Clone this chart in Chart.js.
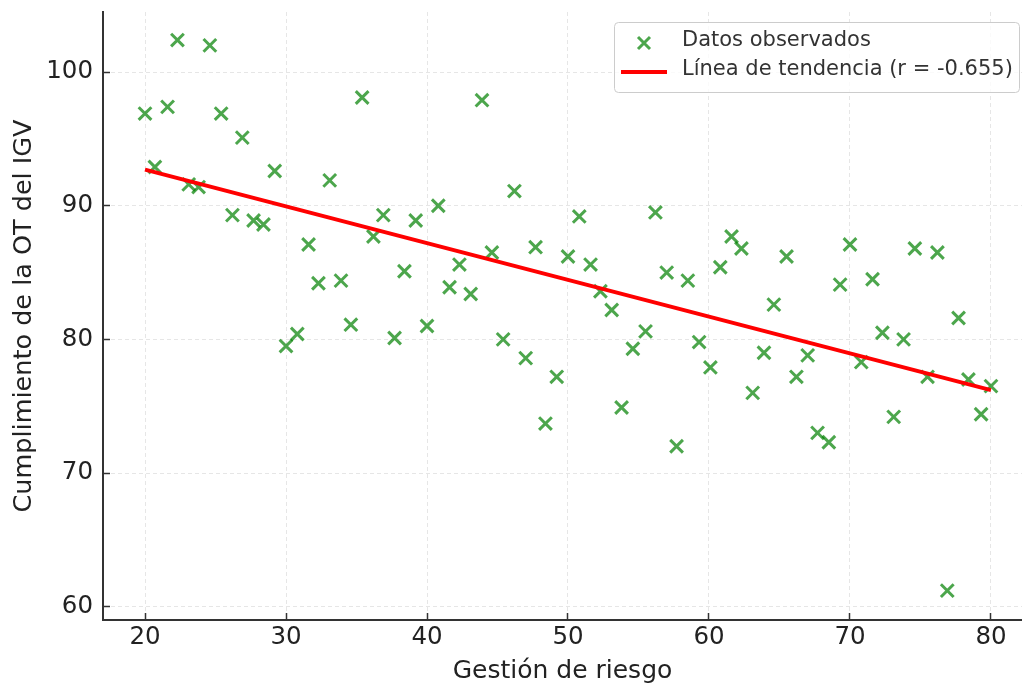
<!DOCTYPE html>
<html>
<head>
<meta charset="utf-8">
<title>Gestión de riesgo vs Cumplimiento</title>
<script src="https://cdn.jsdelivr.net/npm/chart.js@4.4.0/dist/chart.umd.min.js"></script>
<style>
    body{ margin:0; background:#ffffff; }
    canvas{ display:block; }
</style>
</head>
<body>

<canvas id="scatterChart" width="1022" height="684"></canvas>

<script>

// DATA

const gestionRiesgo = [
    20.0, 20.7, 21.6, 22.3, 23.1, 23.8, 24.6, 25.4, 26.2, 26.9,
    27.7, 28.4, 29.2, 30.0, 30.8, 31.6, 32.3, 33.1, 33.9, 34.6,
    35.4, 36.2, 36.9, 37.7, 38.4, 39.2, 40.0, 40.8, 41.6, 42.3,
    43.1, 43.9, 44.6, 45.4, 46.2, 47.0, 47.7, 48.4, 49.2, 50.0,
    50.8, 51.6, 52.3, 53.1, 53.8, 54.6, 55.5, 56.2, 57.0, 57.7,
    58.5, 59.3, 60.1, 60.8, 61.6, 62.3, 63.1, 63.9, 64.6, 65.5,
    66.2, 67.0, 67.7, 68.5, 69.3, 70.0, 70.8, 71.6, 72.3, 73.1,
    73.8, 74.6, 75.5, 76.2, 76.9, 77.7, 78.4, 79.3, 80.0
];

const cumplimiento = [
    96.9, 92.9, 97.4, 102.4, 91.6, 91.4, 102.0, 96.9, 89.3, 95.1,
    88.9, 88.6, 92.6, 79.5, 80.4, 87.1, 84.2, 91.9, 84.4, 81.1,
    98.1, 87.7, 89.3, 80.1, 85.1, 88.9, 81.0, 90.0, 83.9, 85.6,
    83.4, 97.9, 86.5, 80.0, 91.1, 78.6, 86.9, 73.7, 77.2, 86.2,
    89.2, 85.6, 83.6, 82.2, 74.9, 79.3, 80.6, 89.5, 85.0, 72.0,
    84.4, 79.8, 77.9, 85.4, 87.7, 86.8, 76.0, 79.0, 82.6, 86.2,
    77.2, 78.8, 73.0, 72.3, 84.1, 87.1, 78.3, 84.5, 80.5, 74.2,
    80.0, 86.8, 77.2, 86.5, 61.2, 81.6, 77.0, 74.4, 76.5
];

// trend line end points
const tendenciaX = [20, 80];
const tendenciaY = [92.7, 76.2];

const xTicks = [20, 30, 40, 50, 60, 70, 80];
const yTicks = [60, 70, 80, 90, 100];

const etiquetaDatos = "Datos observados";
const etiquetaTendencia = "Línea de tendencia (r = -0.655)";

// COLORS

const verde = "rgba(0,128,0,0.7)";
const rojo = "#ff0000";
const gris = "#333333";

const puntos = gestionRiesgo.map((x, i) => ({ x: x, y: cumplimiento[i] }));
const tendencia = tendenciaX.map((x, i) => ({ x: x, y: tendenciaY[i] }));

// LEGEND (drawn in a box at the top right)

const legendBox = {
    id: "legendBox",
    afterDraw(chart){

        const ctx = chart.ctx;
        ctx.save();

        ctx.beginPath();
        ctx.roundRect(614.5, 22.5, 405, 70, 4);
        ctx.fillStyle = "rgba(255,255,255,0.8)";
        ctx.fill();
        ctx.strokeStyle = "#cccccc";
        ctx.lineWidth = 1;
        ctx.stroke();

        // marker
        ctx.strokeStyle = verde;
        ctx.lineWidth = 3;
        ctx.beginPath();
        ctx.moveTo(638, 37); ctx.lineTo(650, 49);
        ctx.moveTo(650, 37); ctx.lineTo(638, 49);
        ctx.stroke();

        // line
        ctx.strokeStyle = rojo;
        ctx.lineWidth = 4;
        ctx.beginPath();
        ctx.moveTo(621, 72);
        ctx.lineTo(667, 72);
        ctx.stroke();

        ctx.fillStyle = gris;
        ctx.font = '21px "DejaVu Sans"';
        ctx.textBaseline = "middle";
        ctx.textAlign = "left";
        ctx.fillText(etiquetaDatos, 682, 41);
        ctx.fillText(etiquetaTendencia, 682, 70);

        ctx.restore();
    }
};

// CHART

new Chart(document.getElementById("scatterChart"), {

    type: "scatter",

    data: {
        datasets: [
            {
                label: etiquetaDatos,
                data: puntos,
                pointStyle: "crossRot",
                pointRadius: 9,
                pointHoverRadius: 9,
                pointBorderWidth: 3,
                borderColor: verde,
                backgroundColor: verde,
                order: 2
            },
            {
                type: "line",
                label: etiquetaTendencia,
                data: tendencia,
                borderColor: rojo,
                borderWidth: 4,
                pointRadius: 0,
                fill: false,
                order: 1
            }
        ]
    },

    options: {
        responsive: false,
        animation: false,
        layout: {
            autoPadding: false,
            padding: { top: 12, right: 0, left: 0, bottom: 0 }
        },
        plugins: {
            legend: { display: false },
            tooltip: { enabled: false }
        },
        scales: {
            x: {
                type: "linear",
                min: 17.02,
                max: 82.2,
                afterBuildTicks: s => { s.ticks = xTicks.map(v => ({ value: v })); },
                afterFit: s => {
                    s.height = 64;
                    s.paddingLeft = 0;
                    s.paddingRight = 0;
                },
                grid: {
                    color: "#e6e6e6",
                    lineWidth: 1,
                    tickLength: -7,
                    tickColor: gris,
                    tickWidth: 1.5
                },
                border: {
                    color: gris,
                    width: 2,
                    dash: [4, 3]
                },
                ticks: {
                    color: "#222222",
                    padding: 10,
                    font: { family: "DejaVu Sans", size: 24.5 }
                },
                title: {
                    display: true,
                    text: "Gestión de riesgo",
                    color: "#222222",
                    padding: 0,
                    font: { family: "DejaVu Sans", size: 25, lineHeight: 1 }
                }
            },
            y: {
                type: "linear",
                min: 59.0,
                max: 104.5,
                afterBuildTicks: s => { s.ticks = yTicks.map(v => ({ value: v })); },
                afterFit: s => {
                    s.width = 103;
                    s.paddingTop = 0;
                    s.paddingBottom = 0;
                },
                grid: {
                    color: "#e6e6e6",
                    lineWidth: 1,
                    tickLength: -7,
                    tickColor: gris,
                    tickWidth: 1.5
                },
                border: {
                    color: gris,
                    width: 2,
                    dash: [4, 3]
                },
                ticks: {
                    color: "#222222",
                    padding: 17,
                    font: { family: "DejaVu Sans", size: 24.5 }
                },
                title: {
                    display: true,
                    text: "Cumplimiento de la OT del IGV",
                    color: "#222222",
                    padding: { top: 12, bottom: 0 },
                    font: { family: "DejaVu Sans", size: 25.5, lineHeight: 1 }
                }
            }
        }
    },

    plugins: [legendBox]
});

</script>
</body>
</html>
